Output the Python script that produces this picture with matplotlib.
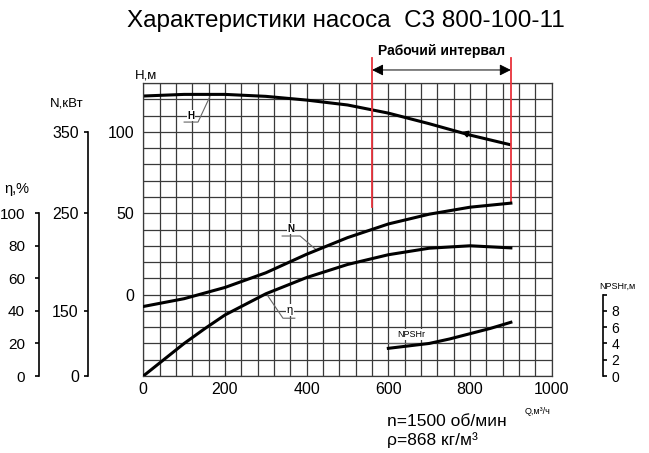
import numpy as np
import matplotlib
matplotlib.use('Agg')
import matplotlib.pyplot as plt

plt.rcParams['font.family'] = ['Liberation Sans', 'DejaVu Sans']

# данные
q_h = [0, 100, 200, 300, 400, 500, 600, 700, 800, 900]
head_m = [122, 123, 123, 121.8, 119.5, 116.5, 111.5, 105, 98, 92]

q_n = [0, 100, 200, 300, 400, 500, 600, 700, 800, 900]
power_kw = [154.5, 162.5, 174, 189, 208, 225, 239, 249, 257.4, 262.4]

q_eff = [0, 50, 100, 150, 200, 300, 400, 500, 600, 700, 800, 900]
eff_pct = [0, 10, 20, 29, 37.5, 50.5, 60.5, 68.5, 74.5, 78.5, 80, 78.7]

q_npsh = [600, 650, 700, 750, 800, 850, 900]
npsh_m = [3.4, 3.7, 4.0, 4.55, 5.2, 5.85, 6.6]

nominal_point = [790, 99.5]
work_q = [560, 900]
work_h_bottom = [54, 57]

q_ticks = [0, 200, 400, 600, 800, 1000]
h_ticks = [0, 50, 100]
n_ticks = [0, 150, 250, 350]
eff_ticks = [0, 20, 40, 60, 80, 100]
npsh_ticks = [0, 2, 4, 6, 8, 10]
npsh_labels = ['0', '2', '4', '6', '8', '']

# шкала мощности нарисована неравномерно: кВт -> деления сетки H
n_knots = [0, 150, 250, 350, 410]
h_knots = [-50, -10, 50, 100, 130]


def n_forward(v):
    return np.interp(v, n_knots, h_knots)


def n_inverse(h):
    return np.interp(h, h_knots, n_knots)


W, H = 649, 453
fig = plt.figure(figsize=(6.49, 4.53), dpi=100)
ax = fig.add_axes([143.3 / W, 1 - 376 / H, 408.4 / W, 293 / H])

grid_col = '#3a3a3a'
ax.set_xlim(0, 1000)
ax.set_ylim(-50, 130)
ax.set_xticks(q_ticks)
ax.set_yticks(h_ticks)
ax.set_xticks(np.arange(0, 1001, 40), minor=True)
ax.set_yticks(np.arange(-50, 131, 10), minor=True)
ax.grid(True, which='both', color=grid_col, lw=0.9)
ax.tick_params(which='both', length=0, labelsize=11.5)
ax.tick_params(axis='x', pad=4)
ax.tick_params(axis='y', pad=6.5)
for s in ax.spines.values():
    s.set_color(grid_col)
    s.set_linewidth(0.9)

# кривая напора
ax.plot(q_h, head_m, color='black', lw=2.2, solid_capstyle='butt')
ax.plot(nominal_point[0], nominal_point[1], marker=(3, 0, 70), color='black', ms=5)

# мощность
ax_n = ax.twinx()
ax_n.set_yscale('function', functions=(n_forward, n_inverse))
ax_n.set_ylim(0, 410)
ax_n.plot(q_n, power_kw, color='black', lw=2.2)
for side in ['right', 'top', 'bottom']:
    ax_n.spines[side].set_visible(False)
ax_n.spines['left'].set_visible(True)
ax_n.spines['left'].set_position(('axes', (88 - 143.3) / 408.4))
ax_n.spines['left'].set_bounds(0, 350)
ax_n.spines['left'].set_linewidth(1.2)
ax_n.yaxis.set_ticks_position('left')
ax_n.set_yticks(n_ticks)
ax_n.set_yticks([], minor=True)
ax_n.set_yticklabels([str(t) for t in n_ticks])
ax_n.tick_params(axis='y', direction='out', length=3, width=1.2, pad=3.6, labelsize=11.5)

# КПД
ax_e = ax.twinx()
ax_e.set_ylim(0, 180)
ax_e.plot(q_eff, eff_pct, color='black', lw=2.2)
for side in ['right', 'top', 'bottom']:
    ax_e.spines[side].set_visible(False)
ax_e.spines['left'].set_visible(True)
ax_e.spines['left'].set_position(('axes', (39 - 143.3) / 408.4))
ax_e.spines['left'].set_bounds(0, 100)
ax_e.spines['left'].set_linewidth(1.2)
ax_e.yaxis.set_ticks_position('left')
ax_e.set_yticks(eff_ticks)
ax_e.tick_params(axis='y', direction='out', length=3, width=1.2, pad=7, labelsize=11)

# NPSHr
ax_p = ax.twinx()
ax_p.set_ylim(0, 36)
ax_p.plot(q_npsh, npsh_m, color='black', lw=2.2)
for side in ['left', 'top', 'bottom']:
    ax_p.spines[side].set_visible(False)
ax_p.spines['right'].set_position(('axes', (603 - 143.3) / 408.4))
ax_p.spines['right'].set_bounds(0, 10)
ax_p.spines['right'].set_linewidth(1.2)
ax_p.set_yticks(npsh_ticks)
ax_p.set_yticklabels(npsh_labels)
ax_p.tick_params(axis='y', direction='out', length=3, width=1.2, pad=3, labelsize=10)

# рабочий интервал
red = '#e8333c'
for q, hb in zip(work_q, work_h_bottom):
    ax.plot([q, q], [hb, 145.5], color=red, lw=1.3, clip_on=False, zorder=6)
ax.annotate('', xy=(work_q[0], 138), xytext=(work_q[1], 138),
            arrowprops=dict(arrowstyle='<|-|>', color='black', lw=0.7,
                            mutation_scale=17, shrinkA=0, shrinkB=0),
            annotation_clip=False)
ax.text(sum(work_q) / 2, 149.5, 'Рабочий интервал', ha='center', va='center',
        fontsize=10, fontweight='bold', clip_on=False)

# подписи кривых с выносками
lead = dict(color='#666666', lw=0.8, zorder=8)
ax.plot([100, 134, 163], [106, 106, 121.6], **lead)
ax.text(117, 110, 'H', ha='center', va='center', fontsize=7, fontweight='bold',
        bbox=dict(facecolor='white', edgecolor='none', pad=0.5), zorder=7)
ax.plot([340, 384, 424], [36, 36, 27.4], **lead)
ax.text(362, 40.5, 'N', ha='center', va='center', fontsize=7, fontweight='bold',
        bbox=dict(facecolor='white', edgecolor='none', pad=0.5), zorder=7)
ax.plot([302, 342, 371], [0.3, -14.5, -14.5], **lead)
ax.text(359, -9.5, 'η', ha='center', va='center', fontsize=8,
        bbox=dict(facecolor='white', edgecolor='none', pad=0.5), zorder=7)
ax.plot([598, 690], [-29.5, -29.5], **lead)
ax.text(655, -24.5, 'NPSHr', ha='center', va='center', fontsize=6.5,
        bbox=dict(facecolor='white', edgecolor='none', pad=0.5), zorder=7)

# подписи осей и прочий текст
fig.text(346 / W, 1 - 21 / H, 'Характеристики насоса  С3 800-100-11',
         ha='center', va='center', fontsize=17.5)
fig.text(146 / W, 1 - 75 / H, 'H,м', ha='center', va='center', fontsize=9.5)
fig.text(67 / W, 1 - 103 / H, 'N,кВт', ha='center', va='center', fontsize=9.5)
fig.text(17 / W, 1 - 189 / H, 'η,%', ha='center', va='center', fontsize=10.5)
fig.text(617 / W, 1 - 286 / H, 'NPSHr,м', ha='center', va='center', fontsize=6.5)
fig.text(538 / W, 1 - 411 / H, 'Q,м³/ч', ha='center', va='center', fontsize=6.5)
fig.text(387 / W, 1 - 421 / H, 'n=1500 об/мин', ha='left', va='center', fontsize=12.5)
fig.text(387 / W, 1 - 440 / H, 'ρ=868 кг/м³', ha='left', va='center', fontsize=12.5)

fig.savefig('out.png', dpi=100)
